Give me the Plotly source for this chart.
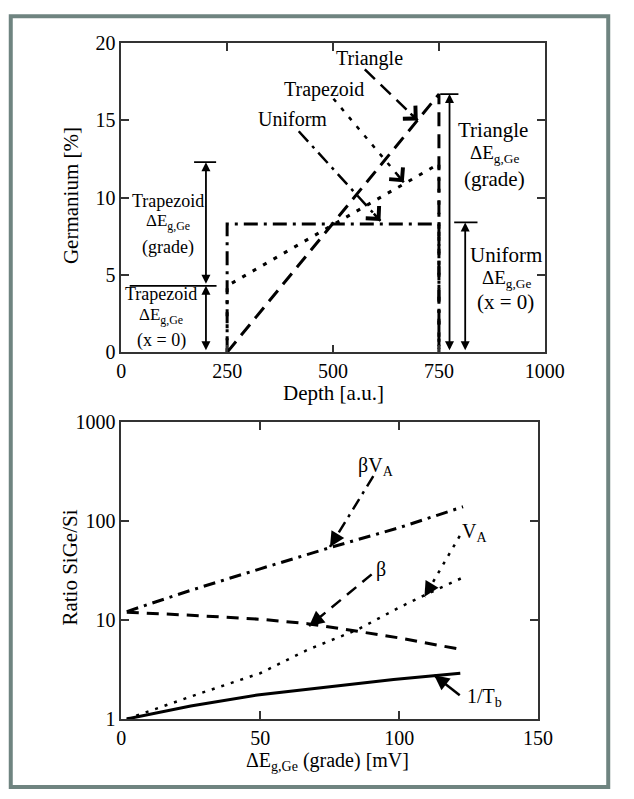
import math
import plotly.graph_objects as go

W, H = 634, 799
FONT = "Liberation Serif, Times New Roman, Times, serif"

# ---------------- top panel data ----------------
uniform_x = [250, 250, 750, 750]
uniform_y = [0, 8.3, 8.3, 0]
trapezoid_x = [250, 250, 750, 750]
trapezoid_y = [0, 4.3, 12.2, 0]
triangle_x = [250, 750, 750]
triangle_y = [0, 16.7, 0]
depth_ticks = [0, 250, 500, 750, 1000]
ge_ticks = [0, 5, 10, 15, 20]

# profile labels: text, label position, leader start, leader end
profile_names = ["Triangle", "Trapezoid", "Uniform"]
profile_label_xy = [(587, 19.0), (478, 17.0), (405, 15.1)]
profile_lead_from = [(575, 18.3), (501, 16.4), (419, 14.3)]
profile_lead_to = [(700, 15.0), (667, 11.0), (612, 8.5)]

# delta-E bars (x, y bottom, y top)
bar_x = [200, 200, 775, 812]
bar_lo = [0, 4.3, 0, 0]
bar_hi = [4.3, 12.3, 16.7, 8.4]
cap_y = [12.3, 4.3, 16.7, 8.4]
cap_x0 = [172, 20, 753, 786]
cap_x1 = [224, 225, 796, 841]

# ---------------- bottom panel data ----------------
bva_x = [2, 25, 50, 75, 100, 123]
bva_y = [12.2, 20, 33, 54, 86, 140]
beta_x = [2, 25, 50, 67, 85, 100, 123]
beta_y = [12.0, 11.2, 10.2, 9.2, 7.7, 6.6, 5.0]
va_x = [2, 28, 50, 67, 85, 100, 109, 123]
va_y = [1.0, 1.8, 2.9, 5.0, 8.0, 13.4, 17.8, 27]
tb_x = [2, 25, 49, 74, 98, 122]
tb_y = [1.0, 1.35, 1.75, 2.1, 2.5, 2.9]
de_ticks = [0, 50, 100, 150]
ratio_ticks = [1, 10, 100, 1000]

curve_names = ["βV<sub>A</sub>", "V<sub>A</sub>", "β", "1/T<sub>b</sub>"]
curve_label_xy = [(91.8, 360), (127, 77), (93.6, 32.5), (130.7, 1.65)]
curve_lead_from = [(90.7, 286), (121.8, 71), (90.1, 29), (121.8, 1.74)]
curve_lead_to = [(75.1, 55), (109.1, 17.2), (67.6, 8.7), (112.6, 2.77)]

# ---------------- layout geometry (pixels) ----------------
TOP = dict(l=121, r=562, t=33, b=351)
BOT = dict(l=121, r=555, t=423, b=728)


def xdom(p):
    return [p["l"] / W, p["r"] / W]


def ydom(p):
    return [1 - p["b"] / H, 1 - p["t"] / H]


DASH_UNI = "14px,6px,3px,6px"
DASH_TRAP = "4px,8px"
DASH_TRI = "14px,8px"
DASH_BVA = "12px,6px,3px,6px"
DASH_BETA = "12px,8px"
DASH_VA = "3px,7px"

fig = go.Figure()

# top curves
fig.add_trace(go.Scatter(x=uniform_x, y=uniform_y, mode="lines", xaxis="x", yaxis="y",
                         line=dict(color="black", width=3, dash=DASH_UNI)))
fig.add_trace(go.Scatter(x=trapezoid_x, y=trapezoid_y, mode="lines", xaxis="x", yaxis="y",
                         line=dict(color="black", width=3, dash=DASH_TRAP)))
fig.add_trace(go.Scatter(x=triangle_x, y=triangle_y, mode="lines", xaxis="x", yaxis="y",
                         line=dict(color="black", width=3, dash=DASH_TRI)))

# bottom curves
fig.add_trace(go.Scatter(x=bva_x, y=bva_y, mode="lines", xaxis="x2", yaxis="y2",
                         line=dict(color="black", width=3, dash=DASH_BVA)))
fig.add_trace(go.Scatter(x=beta_x, y=beta_y, mode="lines", xaxis="x2", yaxis="y2",
                         line=dict(color="black", width=3, dash=DASH_BETA)))
fig.add_trace(go.Scatter(x=va_x, y=va_y, mode="lines", xaxis="x2", yaxis="y2",
                         line=dict(color="black", width=2.5, dash=DASH_VA)))
fig.add_trace(go.Scatter(x=tb_x, y=tb_y, mode="lines", xaxis="x2", yaxis="y2",
                         line=dict(color="black", width=3)))

annotations = []

# scales for arrowhead direction
top_sx = (TOP["r"] - TOP["l"]) / 1000.0
top_sy = (TOP["b"] - TOP["t"]) / 20.0
bot_sx = (BOT["r"] - BOT["l"]) / 150.0
bot_sy = (BOT["b"] - BOT["t"]) / 3.0


def head_offset(p0, p1, sx, sy, logy=False, length=12):
    y0, y1 = (math.log10(p0[1]), math.log10(p1[1])) if logy else (p0[1], p1[1])
    dx = (p1[0] - p0[0]) * sx
    dy = (y1 - y0) * sy
    L = math.hypot(dx, dy)
    return -dx / L * length, dy / L * length


def label(x, y, text, size, xref="x", yref="y", angle=0):
    return dict(x=x, y=y, xref=xref, yref=yref, text=text, showarrow=False,
                xanchor="center", yanchor="middle", textangle=angle,
                font=dict(family=FONT, size=size, color="black"))


top_dashes = [DASH_TRI, DASH_TRAP, DASH_UNI]
for name, lab, p0, p1, dsh in zip(profile_names, profile_label_xy, profile_lead_from,
                                  profile_lead_to, top_dashes):
    fig.add_trace(go.Scatter(x=[p0[0], p1[0]], y=[p0[1], p1[1]], mode="lines",
                             xaxis="x", yaxis="y",
                             line=dict(color="black", width=2.5, dash=dsh)))
    ax, ay = head_offset(p0, p1, top_sx, top_sy)
    annotations.append(dict(x=p1[0], y=p1[1], xref="x", yref="y", ax=ax, ay=ay,
                            showarrow=True, arrowhead=4, arrowsize=1.4, arrowwidth=2.5,
                            arrowcolor="black", text=" ", font=dict(size=1)))
    annotations.append(label(lab[0], lab[1], name, 20))

bot_dashes = [DASH_BVA, DASH_VA, DASH_BETA, "solid"]
for name, lab, p0, p1, dsh in zip(curve_names, curve_label_xy, curve_lead_from,
                                  curve_lead_to, bot_dashes):
    fig.add_trace(go.Scatter(x=[p0[0], p1[0]], y=[p0[1], p1[1]], mode="lines",
                             xaxis="x2", yaxis="y2",
                             line=dict(color="black", width=2.5, dash=dsh)))
    ax, ay = head_offset(p0, p1, bot_sx, bot_sy, logy=True)
    annotations.append(dict(x=p1[0], y=math.log10(p1[1]), xref="x2", yref="y2", ax=ax, ay=ay,
                            showarrow=True, arrowhead=2, arrowsize=1.2, arrowwidth=2.5,
                            arrowcolor="black", text=" ", font=dict(size=1)))
    annotations.append(label(lab[0], math.log10(lab[1]), name, 20, "x2", "y2"))

# delta-E double arrows and caps
for bx, lo, hi in zip(bar_x, bar_lo, bar_hi):
    annotations.append(dict(x=bx, y=hi, ax=bx, ay=lo, xref="x", yref="y", axref="x", ayref="y",
                            showarrow=True, arrowhead=2, arrowside="end+start", arrowsize=1.0,
                            arrowwidth=1.8, arrowcolor="black", text=" ", font=dict(size=1)))
for cy, c0, c1 in zip(cap_y, cap_x0, cap_x1):
    fig.add_trace(go.Scatter(x=[c0, c1], y=[cy, cy], mode="lines", xaxis="x", yaxis="y",
                             line=dict(color="black", width=1.8)))

# delta-E texts
DE = "ΔE<sub>g,Ge</sub>"
side_texts = [
    ("Trapezoid", 111, 9.8, 18), (DE, 111, 8.4, 17), ("(grade)", 110, 6.8, 18),
    ("Trapezoid", 95, 3.8, 18), (DE, 95, 2.35, 17), ("(x = 0)", 95, 0.75, 18),
    ("Triangle", 878, 14.4, 21), (DE, 881, 12.85, 19), ("(grade)", 880, 11.2, 21),
    ("Uniform", 909, 6.3, 21), (DE, 909, 4.75, 19), ("(x = 0)", 907, 3.25, 21),
]
for t, x, y, s in side_texts:
    annotations.append(label(x, y, t, s))

# axis titles
annotations += [
    label(342 / W, 1 - 393 / H, "Depth [a.u.]", 21, "paper", "paper"),
    label(68 / W, 1 - 190 / H, "Germanium [%]", 21, "paper", "paper", -90),
    label(336 / W, 1 - 772 / H, "ΔE<sub>g,Ge</sub> (grade) [mV]", 20, "paper", "paper"),
    label(68 / W, 1 - 572 / H, "Ratio SiGe/Si", 21, "paper", "paper", -90),
]

axis_common = dict(showline=True, mirror="ticks", ticks="inside", ticklen=8,
                   linecolor="#333333", linewidth=1.5, tickcolor="#333333", tickwidth=1.5,
                   showgrid=False, zeroline=False,
                   tickfont=dict(family=FONT, size=20, color="black"))

fig.update_layout(
    width=W, height=H,
    margin=dict(l=0, r=0, t=0, b=0),
    paper_bgcolor="white", plot_bgcolor="white",
    showlegend=False,
    font=dict(family=FONT, color="black"),
    xaxis=dict(domain=xdom(TOP), range=[0, 1000], tickvals=depth_ticks, anchor="y",
               **axis_common),
    yaxis=dict(domain=ydom(TOP), range=[0, 20], tickvals=ge_ticks, anchor="x",
               **axis_common),
    xaxis2=dict(domain=xdom(BOT), range=[0, 150], tickvals=de_ticks, anchor="y2",
                ticklabelstandoff=0, **axis_common),
    yaxis2=dict(domain=ydom(BOT), type="log", range=[0, 3], tickvals=ratio_ticks,
                ticktext=[str(v) for v in ratio_ticks], anchor="x2", **axis_common),
    annotations=annotations,
    shapes=[dict(type="rect", xref="paper", yref="paper",
                 x0=6 / W, x1=628 / W, y0=1 - 798 / H, y1=1 - 5.5 / H,
                 line=dict(color="#6f8480", width=4), fillcolor="rgba(0,0,0,0)",
                 layer="above")],
)

fig.write_html("out.html", config={"displayModeBar": False},
               post_script="document.body.style.margin='0';document.body.style.overflow='hidden';")
